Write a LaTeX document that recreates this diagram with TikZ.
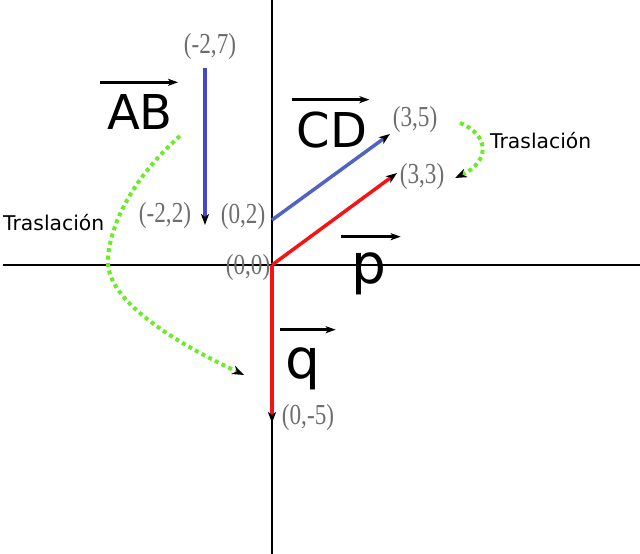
\documentclass[tikz,border=0pt]{standalone}
\usepackage{fontspec}
\usepackage{tikz}
\usetikzlibrary{arrows.meta}
\usetikzlibrary{positioning}
\newfontfamily\coordfont[FakeStretch=0.8]{Liberation Serif}
\newfontfamily\vecfont{DejaVu Sans}
\definecolor{blueab}{RGB}{70,70,200}
\definecolor{bluecd}{RGB}{82,98,192}
\definecolor{redv}{RGB}{245,20,20}
\definecolor{greent}{RGB}{110,235,40}
\definecolor{graylbl}{RGB}{110,110,110}
\tikzstyle{axis}=[black,line width=2pt]
\tikzstyle{vec}=[line width=3.5pt,-{Stealth[color=black,length=11pt,width=8pt,inset=3pt]}]
\tikzstyle{coordlabel}=[text=graylbl,font=\coordfont\fontsize{29}{31}\selectfont,inner sep=0pt]
\tikzstyle{bigname}=[font=\vecfont\fontsize{48}{50}\selectfont,inner sep=0pt]
\tikzstyle{smallname}=[font=\vecfont\fontsize{55}{57}\selectfont,inner sep=0pt]
\tikzstyle{overarrow}=[line width=3pt,-{Stealth[length=10pt,width=7pt,inset=2.5pt]}]
\tikzstyle{translation}=[greent,line width=4pt,dash pattern=on 4pt off 3.5pt,
  -{Stealth[color=black,length=12pt,width=9pt,inset=4pt]}]
\tikzstyle{tlabel}=[font=\vecfont\fontsize{20.3}{22}\selectfont,inner sep=0pt]

\begin{document}
\begin{tikzpicture}[x=1pt,y=-1pt]
\useasboundingbox (0,0) rectangle (640,554);

    % axes
    \coordinate (xl) at (3,265);
    \coordinate (xr) at (640,265);
    \coordinate (yt) at (272,0);
    \coordinate (yb) at (272,554);
    \draw[axis,line width=1.6pt] (xl) -- (xr);
    \draw[axis,line width=2.5pt] (yt) -- (yb);

    \foreach \pos/\name in {{(205,68)/A}, {(205,225)/B}, {(272,220)/C}, {(390,134)/D}, {(272,265)/O}, {(397,173)/P}, {(272,423)/Q}}
        \node[coordinate] (\name) at \pos {};

    \foreach \pos/\name/\txt in {{(210,47)/lA/{(-2,7)}}, {(165,216)/lB/{(-2,2)}}, {(243,217)/lC/{(0,2)}}, {(415,120)/lD/{(3,5)}}, {(248,268)/lO/{(0,0)}}, {(422,177)/lP/{(3,3)}}, {(308,418)/lQ/{(0,-5)}}}
        \node[coordlabel] (\name) at \pos {\txt};

    \foreach \source/\dest/\col in {A/B/blueab, C/D/bluecd, O/P/redv, O/Q/redv}
                \draw[vec, \col] (\source) -- (\dest);

%vector names
  \node[bigname] (AB) at (140,112) {AB};
  \node[bigname] (CD) at (332,130) {CD};
  \node[smallname] (p) at (369,274) {p};
  \node[smallname] (q) at (303,369) {q};

\draw[overarrow] ([xshift=-7pt,yshift=12pt]AB.north west) -- ([xshift=5pt,yshift=12pt]AB.north east);
\draw[overarrow] ([xshift=-5pt,yshift=12pt]CD.north west) -- ([xshift=2pt,yshift=12pt]CD.north east);
\draw[overarrow] ([xshift=-10pt,yshift=16pt]p.north west) -- ([xshift=14pt,yshift=16pt]p.north east);
\draw[overarrow] ([xshift=-5pt,yshift=18pt]q.north west) -- ([xshift=15pt,yshift=18pt]q.north east);

%translations
  \node[tlabel, anchor=base west] (tl) at (3,230) {Traslación};
  \node[tlabel, anchor=base west] (tr) at (490,148) {Traslación};

  \coordinate (g1) at (180,136);
  \coordinate (g2) at (244,375);
  \coordinate (g3) at (460,123);
  \coordinate (g4) at (455,178);
  \draw[translation] (g1) .. controls (130,180) and (108,230) .. (108,262)
        .. controls (108,300) and (170,340) .. (g2);
  \draw[translation] (g3) .. controls (490,135) and (490,162) .. (g4);

\end{tikzpicture}
\end{document}
